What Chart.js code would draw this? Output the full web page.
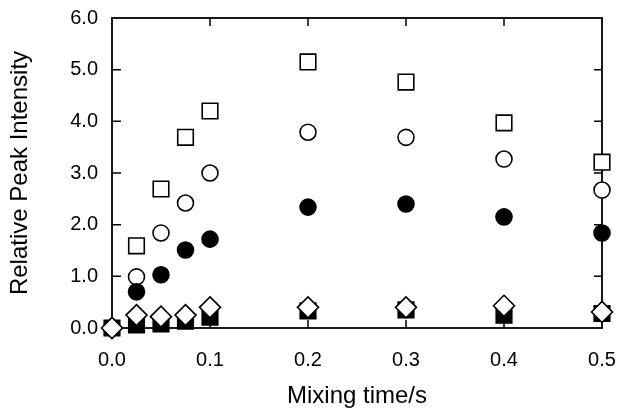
<!DOCTYPE html>
<html>
<head>
<meta charset="utf-8">
<script src="https://cdn.jsdelivr.net/npm/chart.js@4"></script>
<style>
  html, body { margin: 0; padding: 0; background: #fff; }
  #wrap { width: 623px; height: 410px; }
</style>
</head>
<body>
<div id="wrap"><canvas id="c"></canvas></div>
<script>
// mixing times (s)
const mixTimes = [0, 0.025, 0.05, 0.075, 0.1, 0.2, 0.3, 0.4, 0.5];
// relative peak intensities
const openSquares   = [null, 1.59, 2.69, 3.69, 4.20, 5.15, 4.76, 3.97, 3.21];
const openCircles   = [null, 0.99, 1.84, 2.42, 3.00, 3.79, 3.69, 3.27, 2.67];
const filledCircles = [null, 0.70, 1.03, 1.51, 1.72, 2.34, 2.40, 2.15, 1.84];
const openDiamonds  = [0, 0.25, 0.22, 0.25, 0.40, 0.40, 0.40, 0.43, 0.31];
const filledSquares = [0, 0.06, 0.08, 0.13, 0.21, 0.33, 0.35, 0.25, 0.28];
const xTicks = [0, 0.1, 0.2, 0.3, 0.4, 0.5];
const yTicks = [0, 1, 2, 3, 4, 5, 6];

const toPts = arr => mixTimes.map((x, i) => ({ x: x, y: arr[i] })).filter(p => p.y !== null);

function series(data, style, radius, fill, order) {
  return {
    data: toPts(data),
    pointStyle: style,
    pointRadius: radius,
    pointBackgroundColor: fill,
    pointBorderColor: '#000',
    pointBorderWidth: 1.6,
    showLine: false,
    clip: false,
    order: order
  };
}

// frame with inward ticks on all four sides
const framePlugin = {
  id: 'frame',
  beforeDatasetsDraw(chart) {
    const { ctx, chartArea: a, scales } = chart;
    ctx.save();
    ctx.strokeStyle = '#000';
    ctx.lineWidth = 1.8;
    ctx.strokeRect(a.left, a.top, a.right - a.left, a.bottom - a.top);
    ctx.lineWidth = 1.5;
    ctx.beginPath();
    xTicks.slice(1, -1).forEach(v => {
      const px = scales.x.getPixelForValue(v);
      ctx.moveTo(px, a.bottom); ctx.lineTo(px, a.bottom - 8);
      ctx.moveTo(px, a.top); ctx.lineTo(px, a.top + 8);
    });
    yTicks.slice(1, -1).forEach(v => {
      const py = scales.y.getPixelForValue(v);
      ctx.moveTo(a.left, py); ctx.lineTo(a.left + 9, py);
      ctx.moveTo(a.right, py); ctx.lineTo(a.right - 8, py);
    });
    ctx.stroke();
    ctx.restore();
  }
};

new Chart(document.getElementById('c'), {
  type: 'scatter',
  data: {
    datasets: [
      series(openSquares, 'rect', 11, '#fff', 4),
      series(openCircles, 'circle', 8, '#fff', 3),
      series(filledCircles, 'circle', 8, '#000', 2),
      series(filledSquares, 'rect', 11, '#000', 1),
      series(openDiamonds, 'rectRot', 10.5, '#fff', 0)
    ]
  },
  options: {
    responsive: true,
    maintainAspectRatio: false,
    animation: false,
    events: [],
    layout: { autoPadding: false, padding: { left: 0, right: 21, top: 18, bottom: 0 } },
    plugins: { legend: { display: false }, tooltip: { enabled: false } },
    scales: {
      x: {
        type: 'linear', min: 0, max: 0.5,
        afterBuildTicks: s => { s.ticks = xTicks.map(v => ({ value: v })); },
        afterFit: s => { s.height = 82; s.paddingLeft = 0; s.paddingRight = 0; },
        grid: { display: false, drawTicks: false },
        border: { display: false },
        ticks: {
          padding: 20, color: '#000',
          font: { family: 'Liberation Sans, Arial, sans-serif', size: 20 },
          callback: v => v.toFixed(1)
        },
        title: {
          display: true, text: 'Mixing time/s', color: '#000',
          font: { family: 'Liberation Sans, Arial, sans-serif', size: 24, lineHeight: 1 },
          padding: { top: 0, bottom: 2 }
        }
      },
      y: {
        type: 'linear', min: 0, max: 6,
        afterBuildTicks: s => { s.ticks = yTicks.map(v => ({ value: v })); },
        afterFit: s => { s.width = 112; s.paddingTop = 0; s.paddingBottom = 0; },
        grid: { display: false, drawTicks: false },
        border: { display: false },
        ticks: {
          padding: 14, color: '#000',
          font: { family: 'Liberation Sans, Arial, sans-serif', size: 20 },
          callback: v => v.toFixed(1)
        },
        title: {
          display: true, text: 'Relative Peak Intensity', color: '#000',
          font: { family: 'Liberation Sans, Arial, sans-serif', size: 24, lineHeight: 1 },
          padding: { top: 8, bottom: 0 }
        }
      }
    }
  },
  plugins: [framePlugin]
});
</script>
</body>
</html>
